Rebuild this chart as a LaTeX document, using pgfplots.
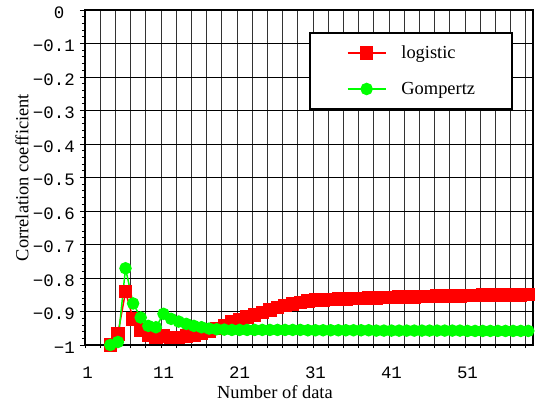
\documentclass[border=0pt]{standalone}
\usepackage{pgfplots}
\pgfplotsset{compat=1.18}
\usepackage{fontspec}
\setmainfont{Liberation Serif}
\newfontfamily\tickfont{Liberation Mono}
\definecolor{pred}{RGB}{255,0,0}
\definecolor{pgreen}{RGB}{0,255,0}
\begin{document}
\begin{tikzpicture}
\path[use as bounding box] (-85bp,-60bp) rectangle (456bp,345bp);
\begin{axis}[
  at={(0,0)}, anchor=south west,
  scale only axis, width=448bp, height=335bp,
  xmin=0.67, xmax=59.62, ymin=-1, ymax=0,
  xtick={1,11,21,31,41,51},
  xticklabels={1,11,21,31,41,51},
  minor xtick={0.67,2.67,...,58.7},
  ytick={-1,-0.9,-0.8,-0.7,-0.6,-0.5,-0.4,-0.3,-0.2,-0.1,0},
  yticklabels={−1,−0.9,−0.8,−0.7,−0.6,−0.5,−0.4,−0.3,−0.2,−0.1,0\phantom{0}},
  minor y tick num=4,
  xmajorgrids=false, xminorgrids=true,
  ymajorgrids=true, yminorgrids=false,
  grid style={black, line width=0.8bp},
  minor grid style={black!80, line width=0.8bp},
  tick pos=left, tick align=outside,
  major tick length=5bp, minor tick length=3bp,
  every tick/.style={black, line width=0.8bp},
  every major x tick/.append style={draw=none},
  axis line style={black, line width=1.6bp},
  tick label style={font=\tickfont\fontsize{17.5}{20}\selectfont},
  xticklabel style={anchor=base, yshift=-28bp},
  yticklabel style={anchor=east, inner sep=0pt, xshift=-5bp, yshift=-2.5bp},
  xlabel={Number of data},
  ylabel={Correlation coefficient},
  every axis x label/.style={at={(axis description cs:0.424,-0.159)}, anchor=base, font=\fontsize{18.5}{22}\selectfont},
  every axis y label/.style={at={(axis description cs:-0.1406,0.5)}, anchor=center, rotate=90, font=\fontsize{18.5}{22}\selectfont},
  clip=false,
  legend image code/.code={\draw[mark repeat=2,mark phase=2,#1] plot coordinates {(0bp,0bp) (19bp,0bp) (38bp,0bp)};},
  legend style={at={(rel axis cs:0.955,0.934)}, anchor=north east, draw=black, line width=1.5bp, fill=white,
    inner xsep=37bp, inner ysep=13bp, row sep=22bp, column sep=15bp,
    nodes={inner sep=0pt}, cells={anchor=west},
    font=\fontsize{18.5}{22}\selectfont},
]
\addplot[pred, line width=1.5bp, mark=square*, mark size=6bp, mark options={solid, fill=pred, draw=pred}] coordinates {
(4,-1.0) (5,-0.967) (6,-0.841) (7,-0.922) (8,-0.955) (9,-0.970) (10,-0.977) (11,-0.973)
(12,-0.977) (13,-0.977) (14,-0.973) (15,-0.972) (16,-0.965) (17,-0.958) (18,-0.951) (19,-0.942)
(20,-0.932) (21,-0.925) (22,-0.917) (23,-0.910) (24,-0.903) (25,-0.895) (26,-0.888) (27,-0.882)
(28,-0.877) (29,-0.873) (30,-0.869) (31,-0.866) (32,-0.865) (33,-0.864) (34,-0.863) (35,-0.862)
(36,-0.861) (37,-0.861) (38,-0.860) (39,-0.859) (40,-0.858) (41,-0.858) (42,-0.857) (43,-0.856)
(44,-0.856) (45,-0.855) (46,-0.855) (47,-0.854) (48,-0.854) (49,-0.853) (50,-0.853) (51,-0.852)
(52,-0.852) (53,-0.851) (54,-0.851) (55,-0.851) (56,-0.850) (57,-0.850) (58,-0.850) (59,-0.849)
};
\addlegendentry{logistic}
\addplot[pgreen, line width=1.5bp, mark=*, mark size=5.5bp, mark options={solid, fill=pgreen, draw=pgreen}] coordinates {
(4,-1.0) (5,-0.991) (6,-0.771) (7,-0.876) (8,-0.918) (9,-0.943) (10,-0.947) (11,-0.907)
(12,-0.922) (13,-0.930) (14,-0.937) (15,-0.943) (16,-0.947) (17,-0.951) (18,-0.953) (19,-0.954)
(20,-0.955) (21,-0.955) (22,-0.955) (23,-0.955) (24,-0.955) (25,-0.955) (26,-0.955) (27,-0.955)
(28,-0.955) (29,-0.955) (30,-0.956) (31,-0.956) (32,-0.956) (33,-0.956) (34,-0.956) (35,-0.956)
(36,-0.956) (37,-0.956) (38,-0.956) (39,-0.957) (40,-0.957) (41,-0.957) (42,-0.957) (43,-0.957)
(44,-0.957) (45,-0.957) (46,-0.957) (47,-0.957) (48,-0.957) (49,-0.957) (50,-0.957) (51,-0.958)
(52,-0.958) (53,-0.958) (54,-0.958) (55,-0.958) (56,-0.958) (57,-0.958) (58,-0.958) (59,-0.958)
};
\addlegendentry{Gompertz}
\end{axis}
\end{tikzpicture}
\end{document}
